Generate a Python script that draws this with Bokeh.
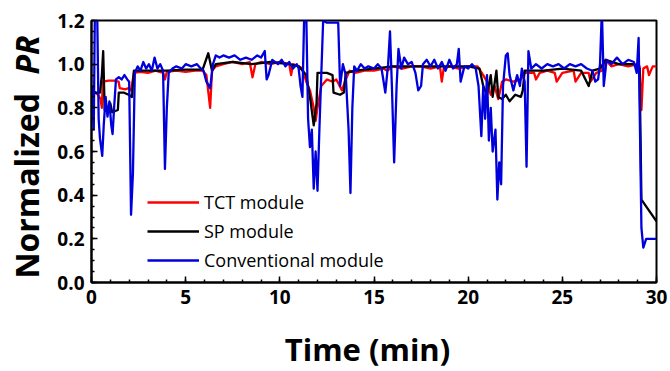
import math
from bokeh.plotting import figure
from bokeh.layouts import gridplot
from bokeh.models import (Range1d, FixedTicker, PrintfTickFormatter, Legend,
                          LegendItem, Label, ColumnDataSource)
from bokeh.embed import file_html
from bokeh.resources import INLINE

# (time in min, normalized PR)
tct_pts = [(0, 0.88), (0.1, 0.86), (0.2, 0.87), (0.35, 0.86), (0.48, 0.84), (0.55, 0.80), (0.6, 0.92),
           (0.9, 0.925), (1.2, 0.925), (1.44, 0.92), (1.5, 0.89), (1.8, 0.885), (1.97, 0.89), (2.1, 0.88),
           (2.25, 0.96), (2.6, 0.965), (3.0, 0.96), (3.4, 0.97), (3.8, 0.96), (3.9, 0.93), (4.0, 0.965),
           (4.5, 0.97), (5.0, 0.965), (5.5, 0.97), (5.9, 0.97), (6.1, 0.95), (6.3, 0.80), (6.4, 0.97),
           (6.6, 0.99), (7.0, 1.0), (7.5, 1.01), (8.0, 1.0), (8.4, 1.01), (8.55, 0.94), (8.7, 1.0),
           (9.0, 1.01), (9.5, 1.0), (10.0, 1.01), (10.5, 1.0), (10.6, 0.95), (10.7, 1.0), (11.0, 0.99),
           (11.2, 0.98), (11.4, 0.92), (11.6, 0.88), (11.8, 0.80), (11.9, 0.74), (12.0, 0.80), (12.2, 0.90),
           (12.5, 0.93), (12.8, 0.92), (13.0, 0.93), (13.3, 0.88), (13.5, 0.93), (13.7, 0.97), (14.0, 0.96),
           (14.5, 0.97), (15.0, 0.97), (15.5, 0.98), (15.7, 0.97), (16.0, 0.99), (16.5, 0.98), (17.0, 0.99),
           (17.5, 0.99), (18.0, 0.98), (18.5, 0.99), (18.6, 0.92), (18.7, 0.98), (19.0, 0.99), (19.5, 0.98),
           (20.0, 0.99), (20.5, 0.99), (20.8, 0.95), (21.0, 0.92), (21.2, 0.86), (21.4, 0.90), (21.6, 0.84),
           (21.8, 0.92), (22.0, 0.93), (22.4, 0.92), (22.8, 0.93), (23.0, 0.96), (23.5, 0.96), (23.6, 0.93),
           (23.8, 0.96), (24.2, 0.97), (24.6, 0.96), (24.7, 0.92), (25.0, 0.96), (25.6, 0.97), (25.7, 0.92),
           (26.0, 0.96), (26.4, 0.96), (26.5, 0.92), (26.8, 0.96), (27.1, 0.97), (27.3, 1.02), (27.6, 0.99),
           (28.0, 1.0), (28.5, 0.99), (29.0, 1.0), (29.1, 0.99), (29.2, 0.79), (29.3, 0.98), (29.5, 0.99),
           (29.6, 0.95), (29.8, 0.99), (30.0, 0.99)]

sp_pts = [(0, 0.88), (0.2, 0.87), (0.45, 0.87), (0.55, 0.95), (0.62, 1.06), (0.7, 0.79), (0.9, 0.78),
          (1.0, 0.82), (1.1, 0.78), (1.4, 0.79), (1.45, 0.87), (1.7, 0.87), (1.97, 0.86), (2.15, 0.85),
          (2.25, 0.97), (3.0, 0.97), (4.0, 0.97), (5.0, 0.975), (5.9, 0.975), (6.2, 1.05), (6.4, 0.97),
          (6.6, 1.0), (7.5, 1.01), (8.5, 1.0), (9.5, 1.01), (10.5, 1.0), (11.0, 0.99), (11.4, 0.95),
          (11.6, 0.85), (11.8, 0.72), (11.95, 0.82), (12.0, 0.96), (12.5, 0.96), (12.8, 0.95), (12.85, 0.87),
          (13.2, 0.86), (13.4, 0.87), (13.5, 0.96), (14.0, 0.97), (15.0, 0.98), (16.0, 0.99), (17.0, 0.99),
          (18.0, 0.99), (19.0, 0.99), (20.0, 0.99), (20.6, 0.98), (20.8, 0.90), (21.0, 0.86), (21.2, 0.95),
          (21.3, 0.85), (21.5, 0.97), (21.6, 0.85), (21.8, 0.84), (22.0, 0.86), (22.2, 0.83), (22.5, 0.86),
          (22.8, 0.85), (22.9, 0.88), (23.0, 0.97), (24.0, 0.97), (25.0, 0.98), (26.0, 0.97), (26.4, 0.90),
          (26.6, 0.97), (27.0, 0.98), (27.3, 1.02), (28.0, 1.0), (28.8, 1.0), (29.1, 0.98), (29.2, 0.38),
          (30.0, 0.28)]

conv_pts = [(0, 0.90), (0.05, 0.87), (0.12, 0.70), (0.18, 1.25), (0.3, 1.25), (0.38, 0.75), (0.45, 0.66),
            (0.57, 0.58), (0.65, 0.72), (0.75, 0.85), (0.85, 0.76), (0.95, 0.83), (1.05, 0.72), (1.12, 0.68),
            (1.2, 0.80), (1.3, 0.93), (1.45, 0.94), (1.6, 0.93), (1.75, 0.95), (1.9, 0.93), (2.0, 0.92),
            (2.1, 0.31), (2.2, 0.50), (2.3, 0.96), (2.45, 0.99), (2.6, 0.97), (2.75, 1.01), (2.9, 0.98),
            (3.05, 1.0), (3.2, 0.97), (3.35, 1.03), (3.5, 0.98), (3.65, 1.0), (3.8, 0.97), (3.9, 0.52),
            (4.0, 0.80), (4.1, 0.96), (4.3, 0.98), (4.5, 0.99), (4.8, 0.98), (5.0, 1.0), (5.3, 0.99),
            (5.6, 1.0), (5.8, 0.98), (5.95, 0.97), (6.1, 0.92), (6.3, 0.89), (6.45, 1.0), (6.6, 1.04),
            (6.8, 1.03), (7.0, 1.04), (7.3, 1.03), (7.6, 1.04), (7.9, 1.02), (8.2, 1.03), (8.5, 1.02),
            (8.8, 1.04), (9.0, 1.03), (9.2, 1.06), (9.3, 0.93), (9.4, 0.95), (9.6, 1.02), (9.9, 1.0),
            (10.1, 1.02), (10.3, 0.99), (10.5, 1.01), (10.7, 0.98), (10.9, 1.0), (11.0, 0.98), (11.1, 0.90),
            (11.2, 0.85), (11.3, 1.25), (11.4, 1.25), (11.5, 0.75), (11.6, 0.62), (11.7, 0.70), (11.8, 0.43),
            (11.9, 0.60), (12.0, 0.42), (12.1, 0.70), (12.2, 0.95), (12.3, 1.20), (12.5, 1.19), (12.8, 1.19),
            (13.1, 1.19), (13.2, 0.90), (13.35, 1.0), (13.5, 0.95), (13.65, 0.70), (13.75, 0.41), (13.85, 0.80),
            (13.95, 0.99), (14.1, 0.97), (14.3, 1.0), (14.5, 0.98), (14.7, 0.99), (15.0, 0.98), (15.2, 1.0),
            (15.4, 0.98), (15.6, 0.87), (15.75, 1.0), (15.85, 1.15), (15.95, 0.90), (16.07, 0.55), (16.2, 0.90),
            (16.3, 1.07), (16.45, 0.98), (16.6, 1.03), (16.8, 1.0), (17.0, 1.01), (17.2, 0.96), (17.35, 0.88),
            (17.5, 0.90), (17.6, 1.0), (17.8, 1.02), (18.0, 0.99), (18.2, 1.02), (18.4, 0.98), (18.6, 1.01),
            (18.8, 0.97), (19.0, 1.02), (19.2, 0.98), (19.4, 1.0), (19.5, 1.07), (19.6, 0.92), (19.8, 0.99),
            (20.0, 0.98), (20.2, 1.0), (20.4, 0.98), (20.55, 0.90), (20.7, 0.67), (20.8, 0.90), (20.9, 0.75),
            (21.0, 0.95), (21.1, 0.65), (21.2, 0.80), (21.3, 0.60), (21.45, 0.70), (21.55, 0.38), (21.65, 0.55),
            (21.75, 0.45), (21.85, 0.90), (22.0, 1.04), (22.1, 1.05), (22.2, 0.95), (22.4, 0.88), (22.6, 0.95),
            (22.75, 0.90), (22.85, 0.98), (23.0, 0.92), (23.1, 0.53), (23.2, 1.06), (23.35, 0.98), (23.6, 1.0),
            (23.9, 0.98), (24.2, 1.0), (24.5, 0.99), (24.8, 1.0), (25.1, 0.98), (25.4, 1.0), (25.7, 0.99),
            (26.0, 1.0), (26.3, 0.98), (26.6, 0.97), (26.75, 0.92), (26.9, 0.93), (27.0, 1.0), (27.1, 1.25),
            (27.2, 0.90), (27.35, 1.02), (27.6, 1.0), (27.9, 1.03), (28.2, 1.0), (28.5, 1.02), (28.8, 1.01),
            (28.95, 0.96), (29.05, 1.12), (29.2, 0.25), (29.3, 0.16), (29.45, 0.20), (30.0, 0.20)]

series_names = ["TCT module", "SP module", "Conventional module"]
series_colors = ["#FF0000", "#000000", "#0000DD"]
x_major_ticks = [0, 5, 10, 15, 20, 25, 30]
y_major_ticks = [0.0, 0.2, 0.4, 0.6, 0.8, 1.0, 1.2]
x_minor_step = 1.0
y_minor_step = 0.05

FONT = "Open Sans"
SIDE_W = 54
MAIN_W = 670 - SIDE_W
MAIN_H = 322      # 20 top + 262 frame + 40 tick labels
BOTTOM_H = 371 - MAIN_H

p = figure(width=MAIN_W, height=MAIN_H, output_backend="svg", toolbar_location=None,
           min_border_left=91 - SIDE_W, min_border_right=14, min_border_top=20, min_border_bottom=40,
           x_range=Range1d(0, 30), y_range=Range1d(0, 1.2))
p.grid.visible = False
p.outline_line_color = "black"
p.outline_line_width = 2
p.background_fill_color = "white"
p.border_fill_color = "white"

renderers = []
for pts, color in zip([tct_pts, sp_pts, conv_pts], series_colors):
    src = ColumnDataSource(dict(t=[a for a, b in pts], v=[b for a, b in pts]))
    r = p.line("t", "v", source=src, line_color=color, line_width=2.3, line_join="round")
    renderers.append(r)

x_minor = [i * x_minor_step for i in range(int(30 / x_minor_step) + 1)]
y_minor = [round(i * y_minor_step, 2) for i in range(int(round(1.2 / y_minor_step)) + 1)]
p.xaxis.ticker = FixedTicker(ticks=x_major_ticks, minor_ticks=x_minor)
p.yaxis.ticker = FixedTicker(ticks=y_major_ticks, minor_ticks=y_minor)
p.yaxis.formatter = PrintfTickFormatter(format="%.1f")
for ax in (p.xaxis[0], p.yaxis[0]):
    ax.axis_line_width = 2
    ax.axis_line_color = "black"
    ax.major_tick_in = 6
    ax.major_tick_out = 0
    ax.minor_tick_in = 3
    ax.minor_tick_out = 0
    ax.major_tick_line_width = 1.5
    ax.minor_tick_line_width = 1.5
    ax.major_label_text_font = FONT
    ax.major_label_text_font_style = "bold"
    ax.major_label_text_font_size = "19px"
    ax.major_label_text_color = "black"
    ax.major_label_standoff = 7

legend = Legend(items=[LegendItem(label=n, renderers=[r]) for n, r in zip(series_names, renderers)],
                location=(56, 10), padding=0, margin=0, spacing=5,
                glyph_width=52, glyph_height=20, label_height=20, label_standoff=5,
                label_text_font=FONT, label_text_font_size="18px", label_text_color="black",
                background_fill_alpha=0, border_line_alpha=0)
p.add_layout(legend)


def blank(w, h):
    f = figure(width=w, height=h, output_backend="svg", toolbar_location=None,
               min_border=0, x_axis_location=None, y_axis_location=None,
               x_range=Range1d(0, 1), y_range=Range1d(0, 1))
    f.grid.visible = False
    f.outline_line_color = None
    f.background_fill_color = "white"
    f.border_fill_color = "white"
    return f


# left panel: rotated y-axis title (frame aligned with the main frame; y from frame bottom)
side = blank(SIDE_W, MAIN_H)
side.add_layout(Label(x=26, y=4, x_units="screen", y_units="screen", text="Normalized",
                      angle=math.pi / 2, text_font=FONT, text_font_style="bold", text_font_size="32px",
                      text_align="left", text_baseline="middle", text_color="black"))
side.add_layout(Label(x=26, y=208, x_units="screen", y_units="screen", text="PR",
                      angle=math.pi / 2, text_font=FONT, text_font_style="bold italic", text_font_size="32px",
                      text_align="left", text_baseline="middle", text_color="black"))

# bottom panel: x-axis title (frame aligned horizontally with the main frame)
bottom = blank(MAIN_W, BOTTOM_H)
bottom.add_layout(Label(x=276, y=23, x_units="screen", y_units="screen", text="Time (min)",
                        text_font=FONT, text_font_style="bold", text_font_size="31px",
                        text_align="center", text_baseline="middle", text_color="black"))

layout = gridplot([[side, p], [None, bottom]], toolbar_location=None)
open("out.html", "w").write(file_html(layout, INLINE))
